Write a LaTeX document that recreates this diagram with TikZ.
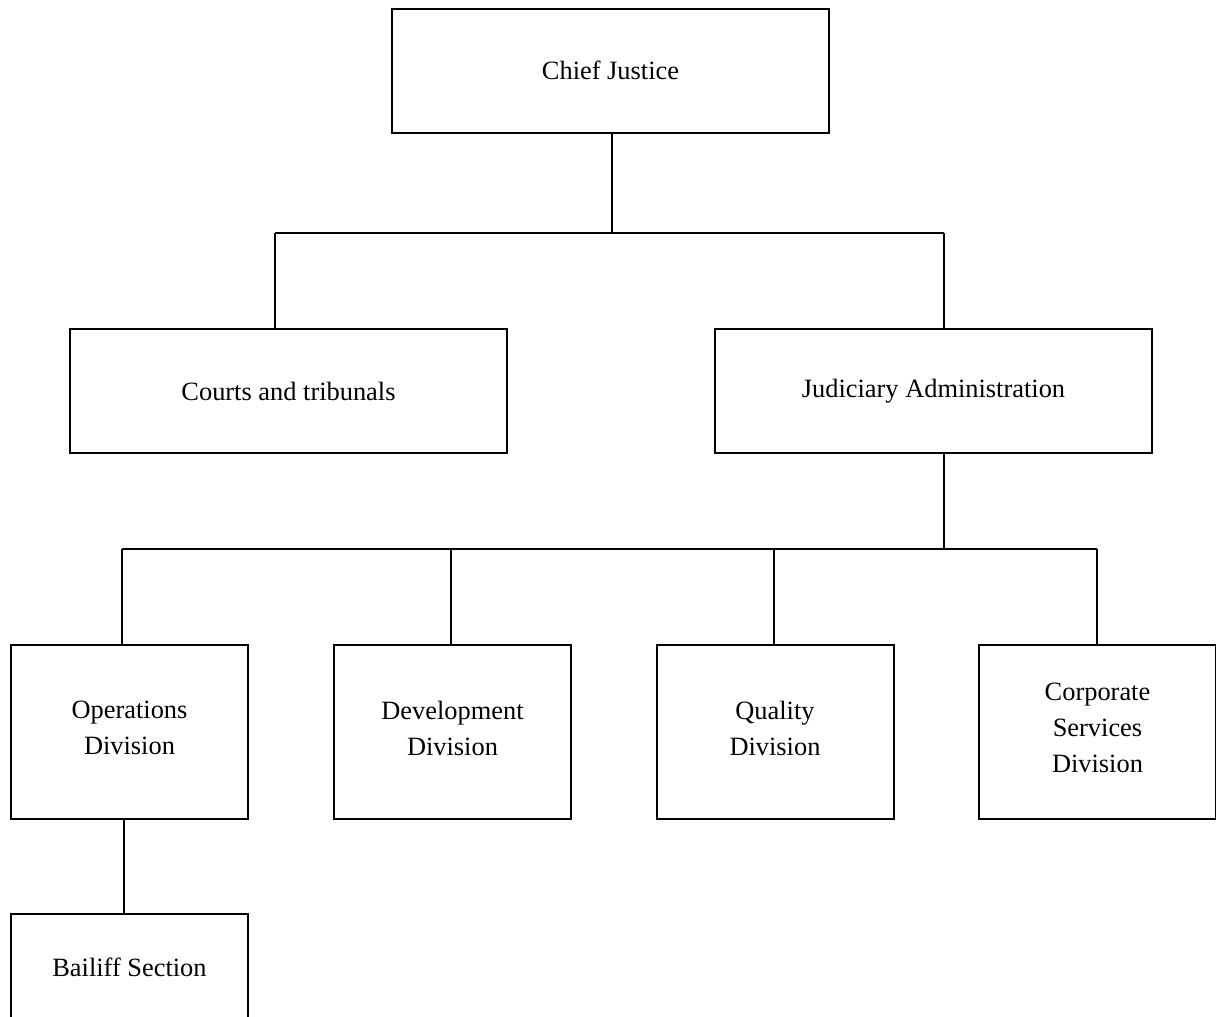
\documentclass[tikz,border=0pt]{standalone}
\usepackage{fontspec}
\setmainfont{Liberation Serif}
\begin{document}
\begin{tikzpicture}[x=1pt,y=-1pt,
  box/.style={draw=black,line width=2pt,rectangle,inner sep=0pt,align=center,
    font=\fontsize{26.4}{36}\selectfont},
  wide/.style={box,minimum width=437pt,minimum height=124pt},
  div/.style={box,minimum width=237pt,minimum height=174pt,text depth=8pt},
  conn/.style={draw=black,line width=2pt}]
\useasboundingbox (0,0) rectangle (1216,1017);
\clip (0,0) rectangle (1216,1017);
\fill[white] (0,0) rectangle (1216,1017);
% nodes
\node[wide] (cj) at (610.5,70.5) {Chief Justice};
\node[wide] (ct) at (288.5,391) {Courts and tribunals};
\node[wide] (ja) at (933.5,391) {Judiciary Administration};
\node[div] (op) at (129.5,732) {Operations\\Division};
\node[div] (dv) at (452.5,732) {Development\\Division};
\node[div] (ql) at (775,732) {Quality\\Division};
\node[div] (cs) at (1097.5,732) {Corporate\\Services\\Division};
\node[box,minimum width=237pt,minimum height=106pt] (bl) at (129.5,967) {Bailiff Section};
% bus junctions
\coordinate (t1) at (612,233);
\coordinate (b1l) at (275,233);
\coordinate (b1r) at (944,233);
\coordinate (t2) at (944,549);
\coordinate (b2a) at (122,549);
\coordinate (b2b) at (451,549);
\coordinate (b2c) at (774,549);
\coordinate (b2d) at (1097,549);
\coordinate (o1) at (124,819);
% connectors
\draw[conn] (t1 |- cj.south) -- (t1);
\draw[conn] (b1l) -- (b1r);
\draw[conn] (b1l) -- (b1l |- ct.north);
\draw[conn] (b1r) -- (b1r |- ja.north);
\draw[conn] (t2 |- ja.south) -- (t2);
\draw[conn] (b2a) -- (b2d);
\draw[conn] (b2a) -- (b2a |- op.north);
\draw[conn] (b2b) -- (b2b |- dv.north);
\draw[conn] (b2c) -- (b2c |- ql.north);
\draw[conn] (b2d) -- (b2d |- cs.north);
\draw[conn] (o1 |- op.south) -- (o1 |- bl.north);
\end{tikzpicture}
\end{document}
